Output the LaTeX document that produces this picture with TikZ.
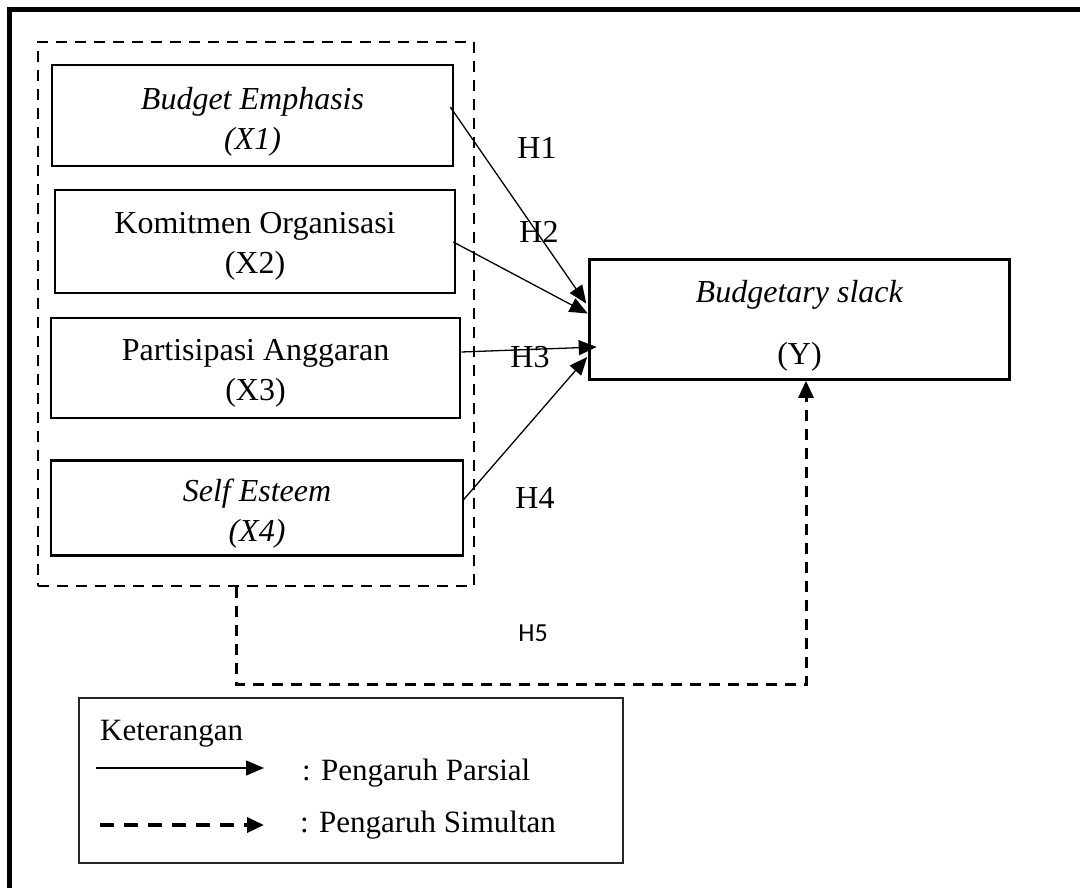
\documentclass[tikz,border=0pt]{standalone}
\usepackage{fontspec}
\setmainfont{Liberation Serif}
\newfontfamily\calibrifont{Carlito}
\usetikzlibrary{arrows.meta,calc}
\newcommand\boxtext[2][0pt]{\raisebox{#1}[0pt][0pt]{\begin{tabular}{@{}c@{}}#2\end{tabular}}}
\begin{document}
\begin{tikzpicture}[x=1pt,y=-1pt,
  varbox/.style={draw,line width=2.6pt,inner sep=0pt,
    font=\fontsize{32}{40}\selectfont},
  grpbox/.style={draw,line width=2.6pt,dash pattern=on 11pt off 8pt},
  partial/.style={line width=1.3pt,-{Triangle[length=18pt,width=15pt]}},
  simult/.style={line width=3pt,dash pattern=on 11pt off 8pt,-{Triangle[length=17pt,width=15pt]}},
  hlab/.style={font=\fontsize{32}{36}\selectfont,inner sep=0pt},
  lgtext/.style={font=\fontsize{31}{36}\selectfont,inner sep=0pt,anchor=base west}]
\useasboundingbox (0,0) rectangle (1080,888);
% outer frame (open at right and bottom)
\draw[line width=4.5pt] (9.5,888) -- (9.5,9.5) -- (1080,9.5);
% dashed group box
\node[grpbox,minimum width=436pt,minimum height=544pt,inner sep=0pt] (grp) at (256,314) {};
% variable boxes
\node[varbox,minimum width=401pt,minimum height=101pt] (x1) at (252.5,115.5) {\boxtext[-12pt]{\textit{Budget Emphasis}\\\textit{(X1)}}};
\node[varbox,minimum width=400pt,minimum height=103pt] (x2) at (255,241.5) {\boxtext[-10pt]{Komitmen Organisasi\\(X2)}};
\node[varbox,minimum width=409pt,minimum height=100pt] (x3) at (255.5,368) {\boxtext[-11pt]{Partisipasi Anggaran\\(X3)}};
\node[varbox,minimum width=412pt,minimum height=95pt] (x4) at (257,508) {\boxtext[-12pt]{\textit{Self Esteem}\\\textit{(X4)}}};
\node[varbox,minimum width=420pt,minimum height=120pt] (y) at (799.5,319.5) {\boxtext[-12pt]{\textit{Budgetary slack}\\[22pt](Y)}};
% partial arrows
\draw[partial] ([xshift=-4pt,yshift=8.5pt]x1.east) -- ([xshift=-2pt,yshift=16pt]y.west);
\draw[partial] ([xshift=-3pt,yshift=-0.5pt]x2.east) -- ([xshift=-0.5pt,yshift=6pt]y.west);
\draw[partial] ([yshift=16pt]x3.east) -- ([xshift=8.5pt,yshift=-27.5pt]y.west);
\draw[partial] ([xshift=-1pt,yshift=8pt]x4.east) -- ([xshift=-1pt,yshift=-37.5pt]y.west);
% labels
\node[hlab] (h1) at (537,148) {H1};
\node[hlab] (h2) at (539,232) {H2};
\node[hlab] (h3) at (530,357) {H3};
\node[hlab] (h4) at (535,498) {H4};
\node[font=\calibrifont\fontsize{26}{30}\selectfont,inner sep=0pt] (h5) at (533,633) {H5};
% simultaneous path
\draw[simult] ([xshift=-20pt]grp.south) -- ++(0,97.5) -| ([xshift=6.5pt]y.south);
% legend
\node[draw,line width=1.6pt,draw=black!85,minimum width=544pt,minimum height=165pt,inner sep=0pt] (leg) at (351,780.5) {};
\node[lgtext] (ket) at (100,740) {Keterangan};
\coordinate (la1) at (96,768);
\coordinate (la2) at (264,768);
\coordinate (lb1) at (100,825);
\coordinate (lb2) at (264,825);
\draw[partial] (la1) -- (la2);
\draw[simult,line width=3.4pt,dash pattern=on 14pt off 10pt] (lb1) -- (lb2);
\node[lgtext] (lp) at (302,780) {: Pengaruh Parsial};
\node[lgtext] (ls) at (300,832) {: Pengaruh Simultan};
\end{tikzpicture}
\end{document}
